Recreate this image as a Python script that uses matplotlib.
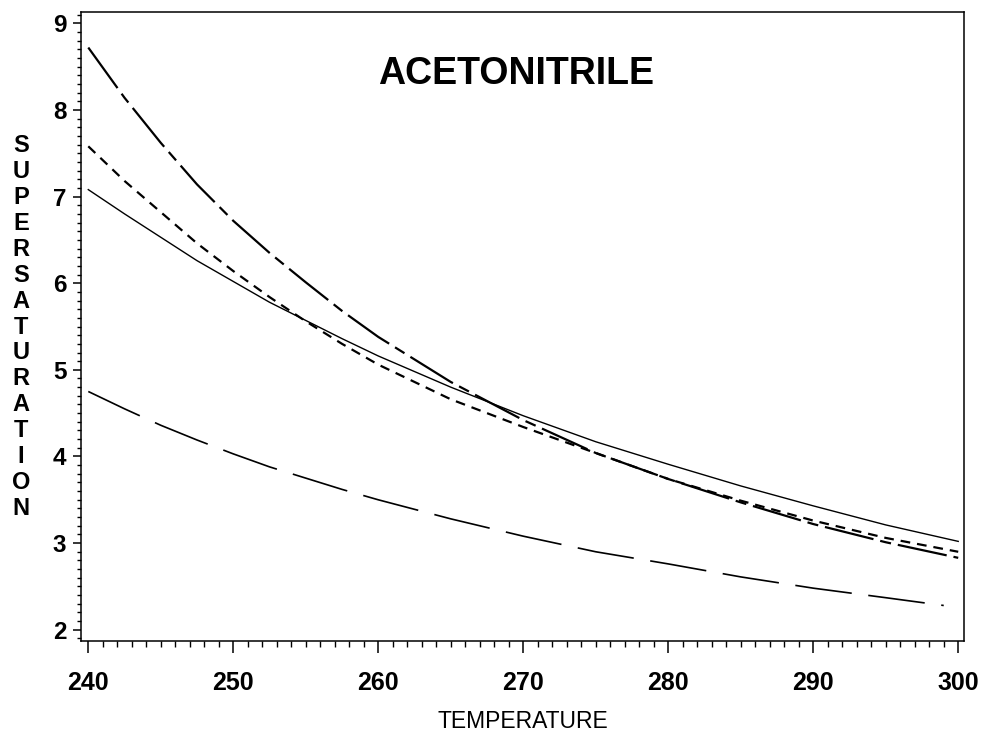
import matplotlib.pyplot as plt
from matplotlib.ticker import MultipleLocator

plt.rcParams['font.family'] = ['Liberation Sans', 'DejaVu Sans']
plt.rcParams['lines.scale_dashes'] = False

# Data (temperature vs supersaturation)
temp = [240, 242.5, 245, 247.5, 250, 252.5, 255, 257.5, 260,
        265, 270, 275, 280, 285, 290, 295, 300]
solid = [7.08, 6.80, 6.53, 6.26, 6.02, 5.78, 5.57, 5.36, 5.16,
         4.80, 4.47, 4.17, 3.91, 3.66, 3.43, 3.21, 3.02]
short_dash = [7.58, 7.18, 6.82, 6.46, 6.14, 5.84, 5.56, 5.30, 5.06,
              4.66, 4.34, 4.04, 3.74, 3.49, 3.26, 3.06, 2.90]
long_short = [8.72, 8.14, 7.62, 7.14, 6.72, 6.35, 6.01, 5.68, 5.38,
              4.86, 4.42, 4.04, 3.74, 3.47, 3.22, 3.01, 2.83]
temp_low = [240, 242.5, 245, 247.5, 250, 252.5, 255, 257.5, 260,
            265, 270, 275, 280, 285, 290, 295, 299]
long_dash = [4.75, 4.55, 4.36, 4.19, 4.03, 3.88, 3.75, 3.62, 3.50,
             3.28, 3.08, 2.90, 2.76, 2.61, 2.48, 2.37, 2.28]

ylabel = "SUPERSATURATION"

fig = plt.figure(figsize=(9.81, 7.32), dpi=100, facecolor='white')
ax = fig.add_axes([0.0826, 0.1243, 0.9001, 0.8593])

ax.plot(temp, solid, color='black', lw=1.0)
ax.plot(temp, short_dash, color='black', lw=1.6, dashes=(7, 5))
ax.plot(temp, long_short, color='black', lw=1.6, dashes=(36, 5, 8, 5))
ax.plot(temp_low, long_dash, color='black', lw=1.2, dashes=(41, 12))

ax.set_xlim(239.5, 300.4)
ax.set_ylim(1.87, 9.13)

ax.xaxis.set_major_locator(MultipleLocator(10))
ax.xaxis.set_minor_locator(MultipleLocator(1))
ax.yaxis.set_major_locator(MultipleLocator(1))
ax.yaxis.set_minor_locator(MultipleLocator(0.1))

ax.tick_params(axis='x', which='major', direction='out', length=8.6, width=1.1,
               pad=13, labelsize=18)
ax.tick_params(axis='x', which='minor', direction='out', length=4.3, width=1.0)
ax.tick_params(axis='y', which='major', direction='out', length=5.5, width=1.1,
               pad=5, labelsize=17.5)
ax.tick_params(axis='y', which='minor', direction='out', length=3, width=1.0)
for lab in ax.get_xticklabels() + ax.get_yticklabels():
    lab.set_fontweight('bold')

for sp in ax.spines.values():
    sp.set_linewidth(1.1)

ax.text(269.5, 8.42, "ACETONITRILE", fontsize=27, fontweight='bold',
        ha='center', va='center')

fig.text(523 / 981, 1 - 721 / 732, "TEMPERATURE", fontsize=16.5,
         ha='center', va='center')

# stacked vertical y label
for i, ch in enumerate(ylabel):
    ypix = 146 + i * 25.86
    fig.text(21 / 981, 1 - ypix / 732, ch, fontsize=17, fontweight='bold',
             ha='center', va='center')

fig.savefig("out.png", dpi=100, facecolor='white')
